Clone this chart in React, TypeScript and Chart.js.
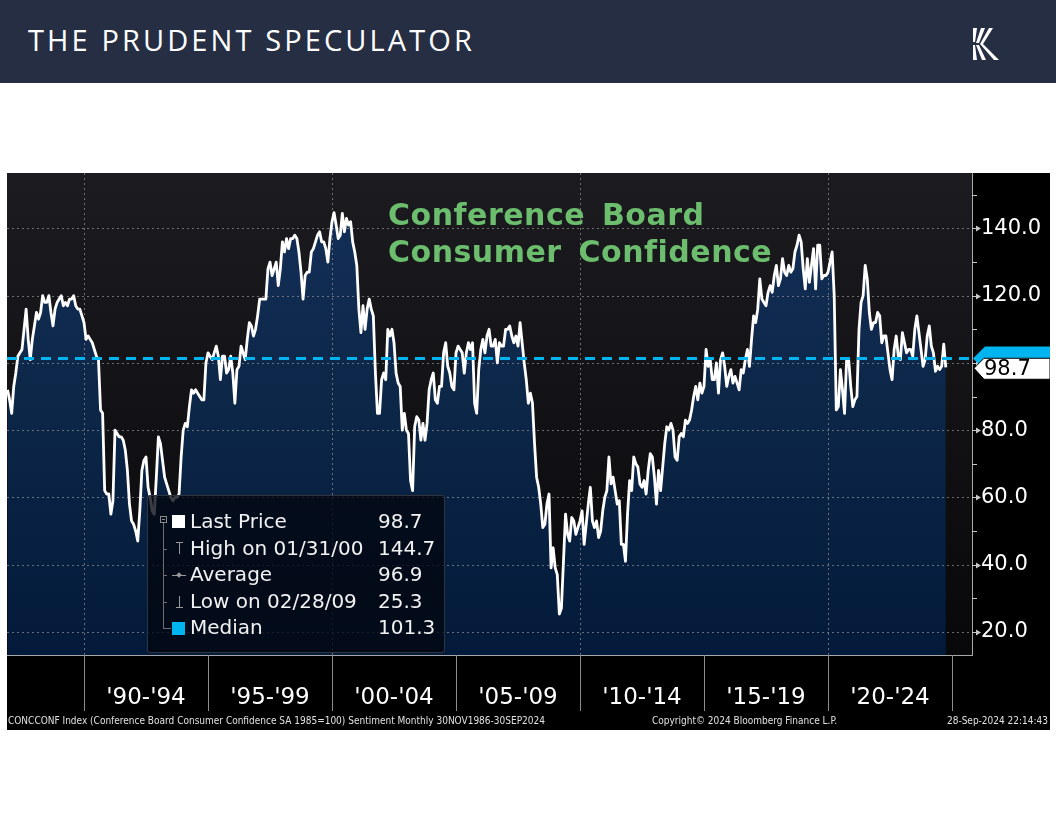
import React, { useEffect, useRef } from "react";
import { Chart, registerables } from "chart.js";

Chart.register(...registerables);
Chart.defaults.font.family = "DejaVu Sans";

// ---------------- data (monthly, Nov 1986 .. Sep 2024) ----------------
const cc1986_1989 = [
  92, 89,
  85, 93, 97, 102, 103, 104, 110, 116, 107, 101, 107, 111,
  115, 113, 115, 120, 118, 118, 120, 115, 111, 116, 118, 119,
  120, 117, 118, 117, 119, 119, 120, 117, 116, 116, 114, 112,
];
const cc1990_1994 = [
  107, 108, 107, 106, 104, 102, 101, 86, 85, 62, 61, 61,
  55, 59, 80, 79, 78, 78, 77, 74, 68, 58, 53, 52,
  50, 47, 56, 68, 71, 72, 63, 60, 56, 55, 66, 78,
  76, 71, 66, 64, 62, 60, 59, 60, 60, 61, 72, 80,
  82, 81, 87, 92, 91, 92, 91, 90, 89, 89, 100, 103,
];
const cc1995_1999 = [
  102, 101, 103, 105, 102, 95, 102, 102, 97, 98, 102, 97,
  88, 98, 99, 105, 103, 101, 107, 112, 111, 108, 110, 114,
  119, 119, 119, 119, 128, 130, 126, 128, 130, 123, 128, 136,
  133, 137, 134, 137, 137, 138, 137, 133, 127, 119, 126, 127,
  127, 133, 134, 136, 138, 139, 136, 136, 134, 130, 137, 142,
];
const cc2000_2004 = [
  144.7, 141, 137, 138, 144.5, 139, 143, 141, 142, 136, 133, 129,
  116, 109, 117, 110, 116, 119, 116, 114, 97, 85, 85, 95,
  97, 95, 110, 108, 110, 106, 97, 94, 93, 80, 85, 80,
  79, 65, 62, 81, 84, 83, 77, 82, 77, 82, 92, 95,
  97, 89, 88, 93, 93, 103, 106, 99, 97, 93, 92, 103,
];
const cc2005_2009 = [
  105, 104, 103, 97, 103, 106, 104, 106, 88, 85, 98, 104,
  107, 103, 108, 110, 105, 105, 107, 100, 106, 105, 105, 110,
  110, 111, 108, 106, 108, 105, 112, 106, 100, 95, 88, 91,
  88, 76, 66, 63, 58, 51, 52, 58, 61, 39, 45, 39,
  37, 25.3, 27, 41, 55, 49, 47, 54, 53, 49, 51, 53,
];
const cc2010_2014 = [
  56, 46, 52, 58, 63, 53, 51, 53, 48, 50, 56, 60,
  62, 72, 64, 66, 62, 58, 59, 46, 46, 41, 55, 65,
  62, 72, 70, 69, 64, 63, 65, 61, 68, 73, 72, 66,
  58, 68, 62, 69, 76, 81, 80, 82, 80, 72, 71, 78,
  79, 78, 83, 82, 83, 86, 90, 93, 89, 94, 91, 93,
];
const cc2015_2019 = [
  104, 99, 101, 95, 95, 100, 91, 101, 103, 99, 93, 96,
  98, 94, 96, 94, 92, 98, 97, 101, 104, 99, 107, 114,
  112, 116, 125, 119, 118, 117, 121, 123, 121, 126, 129, 123,
  125, 131, 127, 126, 129, 127, 128, 133, 135, 138, 136, 128,
  122, 131, 124, 129, 134, 122, 135, 135, 125, 126, 126, 127,
];
const cc2020_2024 = [
  130, 133, 120, 86, 87, 98, 92, 85, 101, 101, 93, 87,
  89, 90, 110, 118, 120, 129, 125, 115, 110, 112, 112, 115,
  114, 106, 108, 108, 103, 98, 95, 104, 108, 102, 101, 109,
  106, 103, 104, 104, 102, 110, 114, 109, 104, 99, 101, 108,
  111, 105, 103, 97.5, 99, 98, 99, 105.6, 98.7,
];

const periodStartYears = [1990, 1995, 2000, 2005, 2010, 2015, 2020];
const periodLabels = ["'90-'94", "'95-'99", "'00-'04", "'05-'09", "'10-'14", "'15-'19", "'20-'24"];
const separatorYears = [1990, 1995, 2000, 2005, 2010, 2015, 2020, 2025];
const gridYears = [1990, 2000, 2010, 2020];
const yTickValues = [20, 40, 60, 80, 100, 120, 140];
const yMinorTickValues = [30, 50, 70, 90, 110, 130, 150];
const legendLabels = ["Last Price", "High on 01/31/00", "Average", "Low on 02/28/09", "Median"];
const legendValues = ["98.7", "144.7", "96.9", "25.3", "101.3"];
const MEDIAN = 101.3;
const LAST = 98.7;
const X_MIN = 1986.895;
const X_MAX = 2025.806;
const Y_MIN = 13.1;
const Y_MAX = 156.5;

const allValues = [
  ...cc1986_1989, ...cc1990_1994, ...cc1995_1999, ...cc2000_2004,
  ...cc2005_2009, ...cc2010_2014, ...cc2015_2019, ...cc2020_2024,
];
// each monthly value plotted at its month end (first = end of Nov 1986)
const points = allValues.map((v, i) => ({ x: 1986 + (11 + i) / 12, y: v }));

const bgPlugin = {
  id: "bgPlugin",
  beforeDraw(chart: any) {
    const { ctx, chartArea: a, width, height } = chart;
    ctx.save();
    ctx.fillStyle = "#000";
    ctx.fillRect(0, 0, width, height);
    const g = ctx.createLinearGradient(0, a.top, 0, a.bottom);
    g.addColorStop(0, "#1c1c20");
    g.addColorStop(1, "#08080b");
    ctx.fillStyle = g;
    ctx.fillRect(a.left, a.top, a.right - a.left, a.bottom - a.top);
    ctx.restore();
  },
};

const gridPlugin = {
  id: "gridPlugin",
  afterDatasetDraw(chart: any, args: any) {
    if (args.index !== 0) return;
    const { ctx, chartArea: a, scales } = chart;
    const x = scales.x;
    const y = scales.y;
    ctx.save();
    ctx.strokeStyle = "rgba(140,140,145,0.75)";
    ctx.lineWidth = 1;
    ctx.setLineDash([2, 3]);
    for (const v of yTickValues) {
      const py = Math.round(y.getPixelForValue(v)) + 0.5;
      ctx.beginPath();
      ctx.moveTo(a.left, py);
      ctx.lineTo(a.right, py);
      ctx.stroke();
    }
    for (const yr of gridYears) {
      const px = Math.round(x.getPixelForValue(yr)) + 0.5;
      ctx.beginPath();
      ctx.moveTo(px, a.top);
      ctx.lineTo(px, a.bottom);
      ctx.stroke();
    }
    ctx.restore();
  },
};

const axisPlugin = {
  id: "axisPlugin",
  afterDraw(chart: any) {
    const { ctx, chartArea: a, scales, width } = chart;
    const x = scales.x;
    const y = scales.y;
    ctx.save();
    // x band separators
    ctx.strokeStyle = "#8c8c8c";
    ctx.lineWidth = 1;
    for (const yr of separatorYears) {
      const px = Math.round(x.getPixelForValue(yr)) + 0.5;
      ctx.beginPath();
      ctx.moveTo(px, a.bottom);
      ctx.lineTo(px, a.bottom + 56);
      ctx.stroke();
    }
    // y tick marks
    ctx.strokeStyle = "#c8c8c8";
    ctx.fillStyle = "#c8c8c8";
    for (const v of yMinorTickValues) {
      const py = Math.round(y.getPixelForValue(v)) + 0.5;
      ctx.beginPath();
      ctx.moveTo(a.right, py);
      ctx.lineTo(a.right + 5, py);
      ctx.stroke();
    }
    for (const v of yTickValues) {
      const py = Math.round(y.getPixelForValue(v)) + 0.5;
      ctx.beginPath();
      ctx.moveTo(a.right, py);
      ctx.lineTo(a.right + 5, py);
      ctx.stroke();
      ctx.beginPath();
      ctx.moveTo(a.right + 4, py - 3);
      ctx.lineTo(a.right + 9, py);
      ctx.lineTo(a.right + 4, py + 3);
      ctx.closePath();
      ctx.fill();
    }
    // median tag (cyan, behind)
    const yM = y.getPixelForValue(MEDIAN);
    ctx.fillStyle = "#00b4f0";
    ctx.beginPath();
    ctx.moveTo(a.right + 1, yM);
    ctx.lineTo(a.right + 13, yM - 12);
    ctx.lineTo(width, yM - 12);
    ctx.lineTo(width, yM + 12);
    ctx.lineTo(a.right + 13, yM + 12);
    ctx.closePath();
    ctx.fill();
    // last price tag (white)
    const yL = y.getPixelForValue(LAST);
    ctx.fillStyle = "#ffffff";
    ctx.strokeStyle = "#000";
    ctx.beginPath();
    ctx.moveTo(a.right + 2, yL + 1);
    ctx.lineTo(a.right + 12, yL - 9);
    ctx.lineTo(width, yL - 9);
    ctx.lineTo(width, yL + 12);
    ctx.lineTo(a.right + 12, yL + 12);
    ctx.closePath();
    ctx.fill();
    ctx.stroke();
    ctx.fillStyle = "#000";
    ctx.font = "21px 'DejaVu Sans'";
    ctx.textBaseline = "middle";
    ctx.textAlign = "left";
    ctx.fillText(LAST.toFixed(1), a.right + 12, yL + 2);
    ctx.restore();
  },
};

function fillGradient(c: any) {
  const chart = c.chart;
  const a = chart.chartArea;
  if (!a) return "#0e2545";
  const g = chart.ctx.createLinearGradient(0, a.top, 0, a.bottom);
  g.addColorStop(0, "#15305a");
  g.addColorStop(0.5, "#0c2647");
  g.addColorStop(1, "#031a3a");
  return g;
}

export default function App() {
  const ref = useRef<HTMLCanvasElement>(null);
  useEffect(() => {
    const canvas = ref.current;
    if (!canvas) return;
    const chart = new Chart(canvas, {
      type: "line",
      data: {
        datasets: [
          {
            data: points,
            borderWidth: 0,
            fill: "start",
            backgroundColor: fillGradient,
            pointRadius: 0,
            order: 3,
          },
          {
            data: points,
            borderColor: "#ffffff",
            borderWidth: 2.8,
            borderJoinStyle: "round",
            fill: false,
            pointRadius: 0,
            order: 2,
          },
          {
            data: [
              { x: X_MIN, y: MEDIAN },
              { x: X_MAX, y: MEDIAN },
            ],
            borderColor: "#00b4f0",
            borderWidth: 3,
            borderDash: [10, 7],
            fill: false,
            pointRadius: 0,
            order: 1,
          },
        ],
      } as any,
      options: {
        animation: false,
        responsive: false,
        maintainAspectRatio: false,
        events: [],
        layout: { padding: 0 },
        plugins: { legend: { display: false }, tooltip: { enabled: false } },
        scales: {
          x: {
            type: "linear",
            min: X_MIN,
            max: X_MAX,
            afterFit: (s: any) => {
              s.height = 75;
              s.paddingLeft = 0;
              s.paddingRight = 0;
            },
            afterBuildTicks: (s: any) => {
              s.ticks = periodStartYears.map((yr) => ({ value: yr + 2.5 }));
            },
            grid: { display: false, drawTicks: false },
            border: { display: true, color: "#a8a8a8", width: 1 },
            ticks: {
              color: "#ffffff",
              font: { size: 23 },
              padding: 29,
              maxRotation: 0,
              autoSkip: false,
              callback: (_v: any, i: number) => periodLabels[i],
            },
          },
          y: {
            type: "linear",
            position: "right",
            min: Y_MIN,
            max: Y_MAX,
            afterFit: (s: any) => {
              s.width = 78;
              s.paddingTop = 0;
              s.paddingBottom = 0;
            },
            afterBuildTicks: (s: any) => {
              s.ticks = yTickValues.map((v) => ({ value: v }));
            },
            grid: { display: false, drawTicks: false },
            border: { display: true, color: "#a8a8a8", width: 1 },
            ticks: {
              color: "#ffffff",
              font: { size: 21 },
              padding: 9,
              callback: (v: any) => Number(v).toFixed(1),
            },
          },
        },
      } as any,
      plugins: [bgPlugin, gridPlugin, axisPlugin],
    });
    return () => chart.destroy();
  }, []);

  const rowTop = 508;
  const rowH = 26.6;

  return (
    <div
      style={{
        position: "fixed",
        left: 0,
        top: 0,
        width: 1056,
        height: 816,
        background: "#ffffff",
        overflow: "hidden",
      }}
    >
      {/* header */}
      <div style={{ position: "absolute", left: 0, top: 0, width: 1056, height: 83, background: "#262e44" }} />
      <div
        style={{
          position: "absolute",
          left: 28,
          top: 21,
          fontFamily: "'Open Sans', sans-serif",
          fontSize: 29,
          lineHeight: "38px",
          letterSpacing: "3.1px",
          color: "#ffffff",
          whiteSpace: "nowrap",
        }}
      >
        THE PRUDENT SPECULATOR
      </div>
      <svg style={{ position: "absolute", left: 972, top: 27 }} width={32} height={34} viewBox="0 0 32 34">
        <g fill="#ffffff">
          <path d="M1 1 L5 1 L3 15 L1 15 Z" />
          <path d="M9 1 L13 1 L7 16 L4 16 Z" />
          <path d="M17 1 L21 1 L11 17 L8 17 Z" />
          <path d="M1 18 L3 18 L5 33 L1 33 Z" />
          <path d="M4 18 L7 18 L14 33 L10 33 Z" />
          <path d="M8 17 L11 17 L27 33 L22 33 Z" />
        </g>
      </svg>

      {/* chart */}
      <canvas
        ref={ref}
        width={1043}
        height={557}
        style={{ position: "absolute", left: 7, top: 173, width: 1043, height: 557 }}
      />

      {/* title */}
      <div
        style={{
          position: "absolute",
          left: 388,
          top: 196,
          fontFamily: "'DejaVu Sans', sans-serif",
          fontWeight: "bold",
          fontSize: 30,
          lineHeight: "37px",
          letterSpacing: "0.5px",
          wordSpacing: "6px",
          color: "#6cbd6d",
          whiteSpace: "nowrap",
        }}
      >
        <div>Conference Board</div>
        <div>Consumer Confidence</div>
      </div>

      {/* legend */}
      <div
        style={{
          position: "absolute",
          left: 147,
          top: 495,
          width: 298,
          height: 158,
          background: "rgba(2,7,16,0.78)",
          border: "1px solid #30343c",
          borderRadius: 3,
          boxSizing: "border-box",
        }}
      />
      <div style={{ position: "absolute", left: 160, top: 516, width: 5, height: 5, border: "1px solid #8a8a8a" }} />
      <div style={{ position: "absolute", left: 162, top: 518.5, width: 3, height: 1, background: "#8a8a8a" }} />
      <div style={{ position: "absolute", left: 163, top: 523, width: 1, height: 106, background: "#6f6f6f" }} />
      {[1, 2, 3, 4].map((k) => (
        <div
          key={k}
          style={{
            position: "absolute",
            left: 163,
            top: Math.round(rowTop + k * rowH + 14),
            width: k === 4 ? 8 : 4,
            height: 1,
            background: "#6f6f6f",
          }}
        />
      ))}
      <div style={{ position: "absolute", left: 172, top: 515, width: 13, height: 13, background: "#ffffff" }} />
      {/* high glyph */}
      <div style={{ position: "absolute", left: 176, top: 542, width: 7, height: 1, background: "#9a9a9a" }} />
      <div style={{ position: "absolute", left: 179, top: 542, width: 1, height: 12, background: "#9a9a9a" }} />
      {/* average glyph */}
      <div style={{ position: "absolute", left: 172, top: 575, width: 14, height: 1, background: "#9a9a9a" }} />
      <div style={{ position: "absolute", left: 177, top: 573, width: 4, height: 4, background: "#9a9a9a", transform: "rotate(45deg)" }} />
      {/* low glyph */}
      <div style={{ position: "absolute", left: 179, top: 596, width: 1, height: 12, background: "#9a9a9a" }} />
      <div style={{ position: "absolute", left: 176, top: 607, width: 7, height: 1, background: "#9a9a9a" }} />
      <div style={{ position: "absolute", left: 172, top: 622, width: 13, height: 13, background: "#00b4f0" }} />
      {legendLabels.map((lab, k) => (
        <div
          key={lab}
          style={{
            position: "absolute",
            left: 190,
            top: rowTop + k * rowH,
            fontFamily: "'DejaVu Sans', sans-serif",
            fontSize: 20,
            lineHeight: "26.6px",
            color: "#f2f2f2",
            whiteSpace: "nowrap",
          }}
        >
          {lab}
        </div>
      ))}
      {legendValues.map((val, k) => (
        <div
          key={"v" + k}
          style={{
            position: "absolute",
            left: 378,
            top: rowTop + k * rowH,
            fontFamily: "'DejaVu Sans', sans-serif",
            fontSize: 20,
            lineHeight: "26.6px",
            color: "#f2f2f2",
            whiteSpace: "nowrap",
          }}
        >
          {val}
        </div>
      ))}

      {/* footer */}
      <div
        style={{
          position: "absolute",
          left: 8,
          top: 714,
          fontFamily: "'DejaVu Sans Condensed', 'DejaVu Sans', sans-serif",
          fontStretch: "condensed",
          fontSize: 10,
          lineHeight: "14px",
          color: "#e0e0e0",
          whiteSpace: "nowrap",
        }}
      >
        CONCCONF Index (Conference Board Consumer Confidence SA 1985=100) Sentiment Monthly 30NOV1986-30SEP2024
      </div>
      <div
        style={{
          position: "absolute",
          left: 652,
          top: 714,
          fontFamily: "'DejaVu Sans Condensed', 'DejaVu Sans', sans-serif",
          fontStretch: "condensed",
          fontSize: 10,
          lineHeight: "14px",
          color: "#e0e0e0",
          whiteSpace: "nowrap",
        }}
      >
        Copyright© 2024 Bloomberg Finance L.P.
      </div>
      <div
        style={{
          position: "absolute",
          right: 1056 - 1048,
          top: 714,
          fontFamily: "'DejaVu Sans Condensed', 'DejaVu Sans', sans-serif",
          fontStretch: "condensed",
          fontSize: 10,
          lineHeight: "14px",
          color: "#e0e0e0",
          whiteSpace: "nowrap",
        }}
      >
        28-Sep-2024 22:14:43
      </div>
    </div>
  );
}
